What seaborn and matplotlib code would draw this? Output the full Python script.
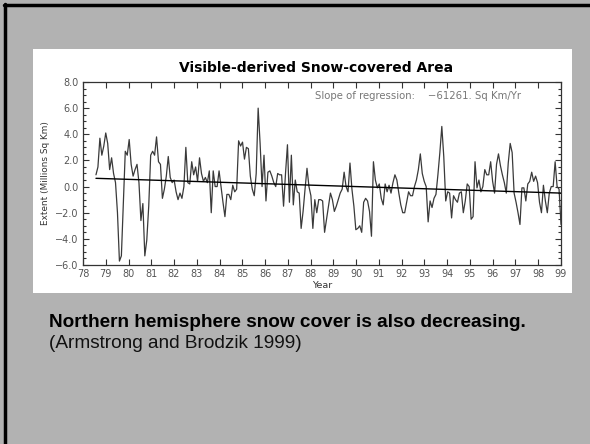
import numpy as np
import pandas as pd
import seaborn as sns
import matplotlib.pyplot as plt
from matplotlib.patches import Rectangle
from matplotlib.lines import Line2D
from matplotlib.ticker import MultipleLocator, FixedLocator, FixedFormatter

# Monthly snow-cover anomaly (millions sq km)
extent = [
    0.9, 1.5, 3.7, 2.4, 3.1, 4.1, 3.3, 1.3, 2.2, 1.0,
    0.3, -2.0, -5.7, -5.3, -1.2, 2.7, 2.4, 3.6, 1.7, 0.8,
    1.3, 1.7, 0.3, -2.6, -1.3, -5.3, -4.1, -1.5, 2.4, 2.7,
    2.4, 3.8, 1.9, 1.7, -0.9, -0.2, 0.8, 2.3, 0.7, 0.3,
    0.5, -0.4, -1.0, -0.5, -0.9, 0.0, 3.0, 0.3, 0.2, 1.9,
    0.9, 1.5, 0.4, 2.2, 1.0, 0.4, 0.7, 0.3, 1.2, -2.0,
    1.2, 0.0, 0.0, 1.2, 0.0, -1.2, -2.3, -0.6, -0.6, -1.0,
    0.1, -0.4, -0.2, 3.5, 3.1, 3.4, 2.1, 3.0, 2.9, 0.8,
    -0.2, -0.7, 1.0, 6.0, 3.3, 0.0, 2.4, -1.1, 1.1, 1.2,
    0.8, 0.3, 0.0, 1.0, 0.9, 0.9, -1.5, 1.0, 3.2, -1.2,
    2.4, -1.4, 0.5, -0.4, -0.5, -3.2, -1.9, -0.2, 1.4, 0.0,
    -0.7, -3.2, -1.0, -2.0, -1.0, -1.0, -1.1, -3.5, -2.5, -1.5,
    -0.5, -1.0, -1.9, -1.5, -1.0, -0.5, -0.2, 1.1, 0.0, -0.4,
    1.8, -0.2, -1.5, -3.3, -3.2, -3.0, -3.5, -1.2, -0.9, -1.1,
    -1.9, -3.8, 1.9, 0.5, -0.1, 0.2, -0.9, -1.4, 0.2, -0.4,
    0.1, -0.5, 0.3, 0.9, 0.5, -0.5, -1.4, -2.0, -2.0, -1.2,
    -0.4, -0.7, -0.7, 0.0, 0.5, 1.3, 2.5, 1.0, 0.4, 0.0,
    -2.7, -1.1, -1.6, -0.9, -0.6, 0.9, 2.6, 4.6, 2.3, -1.1,
    -0.4, -0.5, -2.4, -0.7, -1.0, -1.2, -0.5, -0.4, -2.0, -1.1,
    0.2, 0.0, -2.5, -2.3, 1.9, -0.1, 0.5, -0.4, 0.0, 1.3,
    0.9, 0.9, 1.9, 0.4, -0.5, 1.7, 2.5, 1.6, 0.9, 0.3,
    -0.5, 1.8, 3.3, 2.6, -0.5, -1.2, -2.0, -2.9, -0.1, -0.1,
    -1.1, 0.2, 0.4, 1.1, 0.4, 0.8, 0.3, -1.2, -2.0, 0.1,
    -1.1, -2.0, -0.5, 0.0, 0.0, 1.9, 0.0, -0.2, -2.9,
]
first_year, last_year = 78.57, 99.0
year_ticks = list(range(78, 100))
year_labels = [str(y) for y in year_ticks]
slope_text = "Slope of regression:    \u221261261. Sq Km/Yr"

df = pd.DataFrame({
    "year": np.linspace(first_year, last_year, len(extent)),
    "extent": extent,
})

sns.set_style("ticks")
plt.rcParams["font.family"] = ["DejaVu Sans"]

fig = plt.figure(figsize=(5.9, 4.44), dpi=100)
fig.patch.set_facecolor("#b2b2b2")

# white panel behind the chart
fig.add_artist(Rectangle((33 / 590, 1 - 293 / 444), (572 - 33) / 590, (293 - 49) / 444,
                         transform=fig.transFigure, facecolor="white",
                         edgecolor="none", zorder=0))
# slide frame on top and left
fig.add_artist(Line2D([4 / 590, 1], [1 - 5 / 444, 1 - 5 / 444], color="black",
                      lw=2.5, transform=fig.transFigure))
fig.add_artist(Line2D([5 / 590, 5 / 590], [0, 1 - 4 / 444], color="black",
                      lw=2.5, transform=fig.transFigure))

ax = fig.add_axes([83 / 590, 1 - 265 / 444, (561 - 83) / 590, (265 - 82) / 444])
ax.set_facecolor("white")

sns.lineplot(data=df, x="year", y="extent", ax=ax, color="#3a3a3a", lw=0.9)
sns.regplot(data=df, x="year", y="extent", ax=ax, scatter=False, ci=None,
            line_kws={"color": "black", "lw": 1.0})

ax.set_xlim(78, 99)
ax.set_ylim(-6, 8)
ax.xaxis.set_major_locator(FixedLocator(year_ticks))
ax.xaxis.set_major_formatter(FixedFormatter(year_labels))
ax.yaxis.set_major_locator(MultipleLocator(2))
ax.yaxis.set_minor_locator(MultipleLocator(0.5))
ax.yaxis.set_major_formatter(lambda v, p: f"{v:.1f}".replace("-", "\u2212"))

ax.tick_params(which="both", direction="in", top=True, right=True,
               colors="#333333", labelcolor="#555555", labelsize=7, width=0.8)
ax.tick_params(which="major", length=4, pad=3)
ax.tick_params(which="minor", length=2.5)
for s in ax.spines.values():
    s.set_visible(True)
    s.set_color("#333333")
    s.set_linewidth(0.9)

ax.set_xlabel("Year", fontsize=6.8, color="#333333", labelpad=1)
ax.set_ylabel("Extent (Millions Sq Km)", fontsize=6.4, color="#333333", labelpad=4)
ax.set_title("Visible-derived Snow-covered Area", fontsize=10, fontweight="bold",
             color="black", pad=7, x=0.487)
ax.text(88.2, 6.93, slope_text, fontsize=7.3, color="#777777", va="center")

fig.text(49 / 590, 1 - 322 / 444, "Northern hemisphere snow cover is also decreasing.",
         family=["Liberation Sans"], fontweight="bold", fontsize=13.7, va="center",
         color="black")
fig.text(49 / 590, 1 - 344 / 444, "(Armstrong and Brodzik 1999)",
         family=["Liberation Sans"], fontsize=13.7, va="center", color="#111111")

fig.savefig("out.png", dpi=100, facecolor=fig.get_facecolor())
